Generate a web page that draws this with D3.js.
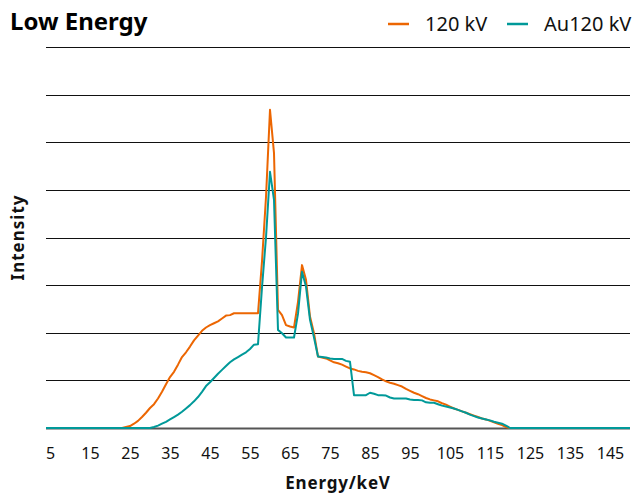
<!DOCTYPE html>
<html>
<head>
<meta charset="utf-8">
<script src="https://cdn.jsdelivr.net/npm/d3@7"></script>
<style>
  body { margin: 0; background: #fff; }
  svg { font-family: "Noto Sans", "Open Sans", sans-serif; }
</style>
</head>
<body>
<div id="svg-container"></div>
<script>
////////////////////////////////////////////////////////////////////
////////////////////////////  Data  ////////////////////////////////
// energy bins, 1 keV steps from 4 to 150
const energies = d3.range(4, 151);

// 120 kV spectrum, values from 4 keV upward (0 after 120 keV)
const kv120 = [
  0, 0, 0, 0, 0, 0, 0, 0, 0, 0, 0, 0, 0, 0, 0, 0, 0, 0, 0, 0, // 4-23
  0.2, 0.4, 0.9, 1.5, 2.3, 3.2, 4.2, 5.0, 6.2, 7.6, // 24-33
  9.2, 10.7, 11.8, 13.3, 14.9, 15.9, 17.1, 18.4, 19.4, 20.4, // 34-43
  21.1, 21.6, 22.0, 22.4, 23.0, 23.6, 23.7, 24.1, 24.1, 24.1, // 44-53
  24.1, 24.1, 24.1, 24.1, 35.0, 48.5, 66.8, 57.7, 24.8, 23.7, // 54-63
  21.6, 21.3, 21.1, 26.5, 34.2, 31.1, 23.4, 19.9, 15.0, 14.8, // 64-73
  14.6, 14.2, 13.8, 13.6, 13.3, 12.9, 12.5, 12.3, 12.0, 11.8, // 74-83
  11.7, 11.5, 11.1, 10.7, 10.2, 9.8, 9.5, 9.3, 9.0, 8.7, // 84-93
  8.2, 7.8, 7.4, 7.1, 6.7, 6.3, 6.0, 5.8, 5.6, 5.2, // 94-103
  4.9, 4.5, 4.1, 3.8, 3.5, 3.2, 2.9, 2.6, 2.3, 2.0, // 104-113
  1.8, 1.5, 1.2, 0.9, 0.6, 0.2, 0 // 114-120
];

// Au filtered 120 kV spectrum
const au120 = [
  0, 0, 0, 0, 0, 0, 0, 0, 0, 0, 0, 0, 0, 0, 0, 0, 0, 0, 0, 0, // 4-23
  0, 0, 0, 0, 0, 0, 0, 0.2, 0.5, 0.9, // 24-33
  1.3, 1.8, 2.3, 2.8, 3.4, 4.1, 4.8, 5.6, 6.5, 7.6, // 34-43
  8.8, 9.6, 10.5, 11.4, 12.2, 13.0, 13.8, 14.4, 14.9, 15.4, // 44-53
  15.9, 16.6, 17.5, 17.6, 29.5, 40.0, 53.8, 47.9, 20.6, 19.9, // 54-63
  19.0, 19.0, 19.0, 24.0, 32.8, 29.7, 22.7, 19.0, 15.0, 14.9, // 64-73
  14.8, 14.6, 14.5, 14.5, 14.5, 14.1, 13.9, 6.9, 6.9, 6.9, // 74-83
  6.9, 7.4, 7.2, 6.9, 6.9, 6.8, 6.4, 6.2, 6.2, 6.2, // 84-93
  6.2, 6.0, 5.9, 5.9, 5.8, 5.4, 5.3, 5.3, 5.0, 4.7, // 94-103
  4.5, 4.3, 4.1, 3.8, 3.5, 3.2, 2.8, 2.5, 2.2, 2.0, // 104-113
  1.8, 1.6, 1.3, 1.1, 0.9, 0.5, 0 // 114-120
];

const seriesNames = ["120 kV", "Au120 kV"];
const xTicks = d3.range(5, 146, 10);
const yGrid = d3.range(0, 81, 10);

////////////////////////////////////////////////////////////////////
////////////////////////////  Init  ////////////////////////////////
const width = 633;
const height = 496;
const margin = { top: 47, right: 3, bottom: 68, left: 46 };

const colors = d3.scaleOrdinal().domain(seriesNames).range(["#ec6602", "#009999"]);

// pad each series with zeros up to 150 keV
const pad = (arr) => energies.map((e, i) => (i < arr.length ? arr[i] : 0));
const series = [
  { name: seriesNames[0], values: pad(kv120) },
  { name: seriesNames[1], values: pad(au120) },
];

const svg = d3
  .select("#svg-container")
  .append("svg")
  .attr("width", width)
  .attr("height", height);

const x = d3
  .scaleLinear()
  .domain([4, 150])
  .range([margin.left, width - margin.right]);

const y = d3
  .scaleLinear()
  .domain([0, 80])
  .range([height - margin.bottom, margin.top]);

// grid lines
svg
  .append("g")
  .selectAll("line")
  .data(yGrid)
  .enter()
  .append("line")
  .attr("x1", margin.left)
  .attr("x2", width - margin.right)
  .attr("y1", (d) => Math.round(y(d)) + 0.5)
  .attr("y2", (d) => Math.round(y(d)) + 0.5)
  .attr("stroke", (d) => (d === 0 ? "#555" : "#111"))
  .attr("stroke-width", (d) => (d === 0 ? 2 : 1.2));

// x axis labels
const xAxis = svg
  .append("g")
  .attr("transform", `translate(0, ${height - margin.bottom})`)
  .call(d3.axisBottom(x).tickValues(xTicks).tickSize(0).tickPadding(20));
xAxis.select(".domain").remove();
xAxis
  .selectAll("text")
  .attr("font-size", 16)
  .attr("fill", "#111")
  .attr("font-family", "Noto Sans, sans-serif");

// lines
const line = d3
  .line()
  .x((d, i) => x(energies[i]))
  .y((d) => y(d));

svg
  .append("g")
  .selectAll("path")
  .data(series)
  .enter()
  .append("path")
  .attr("d", (d) => line(d.values))
  .attr("fill", "none")
  .attr("stroke", (d) => colors(d.name))
  .attr("stroke-width", 2)
  .attr("stroke-linejoin", "round");

// title
svg
  .append("text")
  .attr("x", 10)
  .attr("y", 30)
  .attr("font-size", 24)
  .attr("font-weight", "bold")
  .attr("fill", "#000")
  .text("Low Energy");

// axis titles
svg
  .append("text")
  .attr("x", x(77))
  .attr("y", 489)
  .attr("text-anchor", "middle")
  .attr("font-size", 17)
  .attr("letter-spacing", 0.8)
  .attr("font-weight", "bold")
  .attr("fill", "#111")
  .text("Energy/keV");

svg
  .append("text")
  .attr("transform", `translate(24, ${y(40)}) rotate(-90)`)
  .attr("text-anchor", "middle")
  .attr("font-size", 17)
  .attr("letter-spacing", 1)
  .attr("font-weight", "bold")
  .attr("fill", "#111")
  .text("Intensity");

// legend
const legendX = [388, 507];
const legend = svg
  .append("g")
  .selectAll("g")
  .data(seriesNames)
  .enter()
  .append("g")
  .attr("transform", (d, i) => `translate(${legendX[i]}, 24)`);

legend
  .append("line")
  .attr("x1", 0)
  .attr("x2", 21)
  .attr("stroke", (d) => colors(d))
  .attr("stroke-width", 2.5);

legend
  .append("text")
  .attr("x", 37)
  .attr("y", 7)
  .attr("font-size", 20)
  .attr("fill", "#111")
  .text((d) => d);
</script>
</body>
</html>
